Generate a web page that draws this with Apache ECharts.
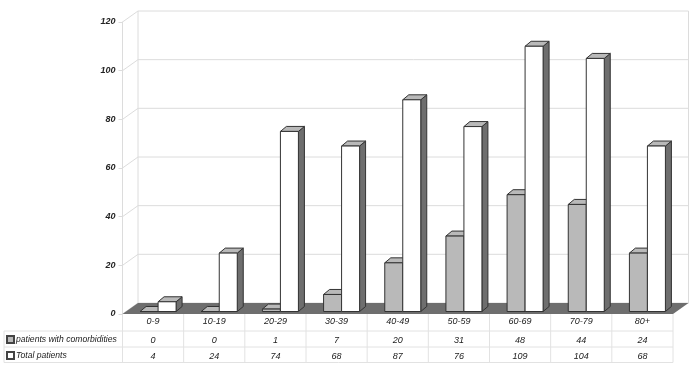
<!DOCTYPE html>
<html><head><meta charset="utf-8">
<style>html,body{margin:0;padding:0;background:#fff}#c{width:693px;height:369px}</style>
<script src="https://cdn.jsdelivr.net/npm/echarts@6/dist/echarts.min.js"></script></head>
<body><div id="c"></div>
<script>
const categories = ['0-9','10-19','20-29','30-39','40-49','50-59','60-69','70-79','80+'];
const comorbidities = [0,0,1,7,20,31,48,44,24];
const totalPatients = [4,24,74,68,87,76,109,104,68];
const yTicks = [0,20,40,60,80,100,120];

const FONT = '"Liberation Sans", Arial, sans-serif';
const DX = 15.5, DY = 11, BW = 18, BX = 6, BY = 5, LIFT = 2.5;
const GRID = '#dcdcdc', EDGE = '#333', DARK = '#6e6e6e', LIGHT = '#b9b9b9';
const ROW1 = 340.5, ROW2 = 356.5;

function poly(pts, fill, stroke) {
  return {type:'polygon', shape:{points:pts}, silent:true,
    style:{fill:fill, stroke:stroke||null, lineWidth:stroke?1:0}};
}
function line(x1,y1,x2,y2,c) {
  return {type:'line', silent:true, shape:{x1,y1,x2,y2}, style:{stroke:c||GRID, lineWidth:1}};
}
function barItem(offset, fill, rowY) {
  return function(params, api) {
    const i = api.value(0), v = api.value(1);
    const base = api.coord([i, 0]), top = api.coord([i, v]);
    const x = base[0] + offset, y0 = base[1] - LIFT, y1 = top[1] - LIFT;
    return {type:'group', children:[
      poly([[x+BW,y0],[x+BW+BX,y0-BY],[x+BW+BX,y1-BY],[x+BW,y1]], DARK, EDGE),
      poly([[x,y1],[x+BX,y1-BY],[x+BW+BX,y1-BY],[x+BW,y1]], LIGHT, EDGE),
      poly([[x,y0],[x+BW,y0],[x+BW,y1],[x,y1]], fill, EDGE),
      {type:'text', silent:true, style:{x:base[0], y:rowY, text:String(v), align:'center', verticalAlign:'middle',
        fill:'#222', font:'italic 9px '+FONT}}
    ]};
  };
}
const chart = echarts.init(document.getElementById('c'), null, {renderer:'canvas'});
const tableLeft = 4, gridL = 122.5, gridR = 673, colW = (gridR-gridL)/categories.length;
const tableLines = [];
[[tableLeft,gridR,331],[tableLeft,gridR,347],[tableLeft,gridR,362.5]].forEach(h=>tableLines.push(line(h[0],h[2],h[1],h[2],'#e2e2e2')));
categories.forEach((c,i)=>tableLines.push(line(gridL+colW*i,314,gridL+colW*i,362.5,'#e2e2e2')));
tableLines.push(line(gridR,314,gridR,362.5,'#e2e2e2'));
tableLines.push(line(tableLeft,331,tableLeft,362.5,'#e2e2e2'));

const legendBase = {show:true, left:6, padding:0, itemWidth:7, itemHeight:7, selectedMode:false,
  textStyle:{fontFamily:FONT, fontStyle:'italic', fontSize:8.6, color:'#222', padding:[0,0,0,-3]}};

chart.setOption({
  animation:false,
  backgroundColor:'#fff',
  graphic:{elements:tableLines},
  legend:[
    Object.assign({}, legendBase, {top:335, data:[{name:'patients with comorbidities', icon:'rect'}]}),
    Object.assign({}, legendBase, {top:351, data:[{name:'Total patients', icon:'rect'}]})
  ],
  grid:{left:gridL, top:22, width:gridR-gridL, height:292},
  xAxis:{type:'category', data:categories, axisLine:{show:false}, axisTick:{show:false}, splitLine:{show:false},
    axisLabel:{margin:3, interval:0, fontFamily:FONT, fontStyle:'italic', fontSize:9, color:'#222'}},
  yAxis:{type:'value', min:0, max:120, interval:20,
    axisLine:{show:true, lineStyle:{color:GRID}}, axisTick:{show:true, length:4, lineStyle:{color:GRID}},
    splitLine:{show:false},
    axisLabel:{margin:7, fontFamily:FONT, fontStyle:'italic', fontWeight:'bold', fontSize:9, color:'#222'}},
  series:[
    {type:'custom', name:'wall', silent:true, z:1, clip:false, data:yTicks.map(v=>[0,v]),
      renderItem(params, api){
        const y = api.coord([0, api.value(1)])[1];
        const cs = params.coordSys;
        return {type:'group', children:[
          line(cs.x, y, cs.x+DX, y-DY),
          line(cs.x+DX, y-DY, cs.x+cs.width+DX, y-DY)
        ]};
      }},
    {type:'custom', name:'floor', silent:true, z:2, clip:false, data:[[0,0]],
      renderItem(params, api){
        const p = api.coord([0,0]), cs = params.coordSys, y = p[1], L = cs.x, R = cs.x+cs.width;
        return {type:'group', children:[
          line(L+DX, cs.y-DY, L+DX, y-DY),
          line(R+DX, cs.y-DY, R+DX, y-DY),
          poly([[L,y],[L+DX,y-DY],[R+DX,y-DY],[R,y]], DARK)
        ]};
      }},
    {type:'custom', name:'patients with comorbidities', z:3, clip:false,
      itemStyle:{color:LIGHT, borderColor:'#444', borderWidth:0.8},
      data:comorbidities.map((v,i)=>[i,v]), renderItem:barItem(-13, LIGHT, ROW1)},
    {type:'custom', name:'Total patients', z:4, clip:false,
      itemStyle:{color:'#fff', borderColor:'#444', borderWidth:0.8},
      data:totalPatients.map((v,i)=>[i,v]), renderItem:barItem(5, '#fff', ROW2)}
  ]
});
</script></body></html>
